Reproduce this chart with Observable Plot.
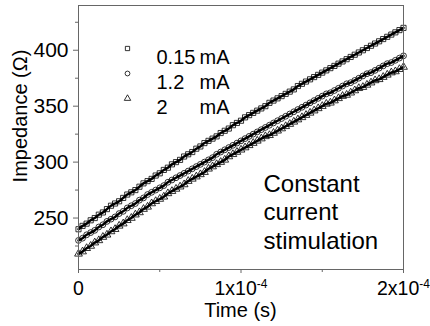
<!DOCTYPE html>
<html>
<head>
<meta charset="utf-8">
<script src="https://cdn.jsdelivr.net/npm/d3@7"></script>
<script src="https://cdn.jsdelivr.net/npm/@observablehq/plot@0.6"></script>
<style>
  html, body { margin: 0; padding: 0; background: #fff; }
  #chart { width: 430px; height: 326px; }
  svg { font-family: Arial, "Liberation Sans", sans-serif; }
</style>
</head>
<body>
<div id="chart"></div>
<script>
// Series labels (current) and unit
const currents = ["0.15", "1.2", "2"];
const unit = "mA";
// Time axis samples (seconds), every 2.5 µs from 0 to 200 µs
const timeS = d3.range(81).map(i => i * 2.5e-6);
// Impedance (Ω)
const imp015 = [240,243,245,248,250,253,255,258,261,263,265,268,271,273,275,278,281,283,285,288,
  290,293,295,298,300,302,305,307,309,312,314,317,319,321,323,326,328,330,333,335,
  337,340,342,344,346,348,350,353,355,357,359,361,363,365,368,370,372,374,376,378,
  380,382,384,386,388,390,392,394,396,398,400,402,404,406,408,410,412,414,416,418,420];
const imp12 = [230,232,235,237,239,242,244,247,249,251,254,256,259,261,263,266,268,271,273,275,
  277,279,282,284,286,288,290,292,294,296,298,300,302,304,307,309,311,313,315,317,
  319,321,323,325,327,329,331,333,335,337,339,341,343,345,347,349,351,353,355,357,
  359,361,362,364,366,368,370,371,373,375,377,379,380,382,384,386,388,389,391,393,395];
const imp2 = [218,220,223,225,228,230,233,235,238,240,243,245,248,250,253,255,258,260,263,265,
  267,269,272,274,276,278,280,283,285,287,289,291,294,296,298,300,302,305,307,309,
  311,313,315,317,319,321,323,324,326,328,330,332,334,336,338,340,342,344,346,348,
  350,352,353,355,357,359,360,362,364,366,367,369,371,373,374,376,378,380,381,383,385];
// Axis ticks
const xTicks = [0, 1e-4, 2e-4];
const xMinor = [0.5e-4, 1.5e-4];
const yTicks = [250, 300, 350, 400];
const yMinor = [225, 275, 325, 375, 425];
const annotation = "Constant\ncurrent\nstimulation";

const series = [imp015, imp12, imp2];
const rows = series.flatMap((vals, k) => vals.map((v, i) => ({t: timeS[i], v, s: currents[k]})));

const legendMarks = currents.flatMap((c, k) => [
  Plot.dot([c], {frameAnchor: "top-left", dx: 49, dy: 43 + k * 25, symbol: d => d, r: 2.4,
    stroke: "black", strokeWidth: 0.8, fill: "none"}),
  Plot.text([c], {frameAnchor: "top-left", dx: 78, dy: 44 + k * 25, text: d => d,
    textAnchor: "start", fontSize: 20, fill: "black"}),
  Plot.text([unit], {frameAnchor: "top-left", dx: 121, dy: 44 + k * 25, text: d => d,
    textAnchor: "start", fontSize: 20, fill: "black"})
]);

const plot = Plot.plot({
  width: 430,
  height: 326,
  marginTop: 5,
  marginRight: 27,
  marginBottom: 57,
  marginLeft: 78,
  style: {fontFamily: "Arial, 'Liberation Sans', sans-serif", background: "white"},
  x: {domain: [0, 2e-4]},
  y: {domain: [204, 440]},
  symbol: {domain: currents, range: ["square", "circle", "triangle"]},
  marks: [
    Plot.line(rows, {x: "t", y: "v", z: "s", stroke: "black", strokeWidth: 2.5, curve: "monotone-x"}),
    Plot.dot(rows, {x: "t", y: "v", symbol: "s", r: 2.9, stroke: "black", strokeWidth: 0.8, fill: "none"}),
    Plot.frame({stroke: "#666", strokeWidth: 1}),
    Plot.axisX(xTicks, {tickSize: 4, tickPadding: 8, stroke: "#666", fontSize: 19.5, fill: "black",
      tickFormat: d => d === 0 ? "0" : `${Math.round(d / 1e-4)}x10^-4`, label: null}),
    Plot.axisX(xMinor, {tickSize: 3, stroke: "#666", text: null, label: null}),
    Plot.axisY(yTicks, {tickSize: 5, tickPadding: 5, stroke: "#666", fontSize: 21, fill: "black", label: null}),
    Plot.axisY(yMinor, {tickSize: 3, stroke: "#666", text: null, label: null}),
    ...legendMarks,
    Plot.text([annotation], {frameAnchor: "top-left", dx: 185, dy: 166, text: d => d,
      textAnchor: "start", lineAnchor: "top", lineHeight: 1.19, fontSize: 24, fill: "black"})
  ]
});

const svg = d3.select(plot);
// superscript exponents on x tick labels
svg.selectAll("text").each(function () {
  const s = this.textContent;
  if (s.includes("^")) {
    const [base, exp] = s.split("^");
    const t = d3.select(this);
    t.text("");
    t.append("tspan").text(base);
    t.append("tspan").attr("dy", "-7").attr("font-size", "12px").text(exp);
  }
});
// axis titles
svg.append("text").attr("transform", "translate(27,116) rotate(-90)")
  .attr("text-anchor", "middle").attr("font-size", 20).attr("fill", "black").text("Impedance (Ω)");
svg.append("text").attr("x", 240.5).attr("y", 317)
  .attr("text-anchor", "middle").attr("font-size", 20).attr("fill", "black").text("Time (s)");

document.getElementById("chart").appendChild(plot);
</script>
</body>
</html>
